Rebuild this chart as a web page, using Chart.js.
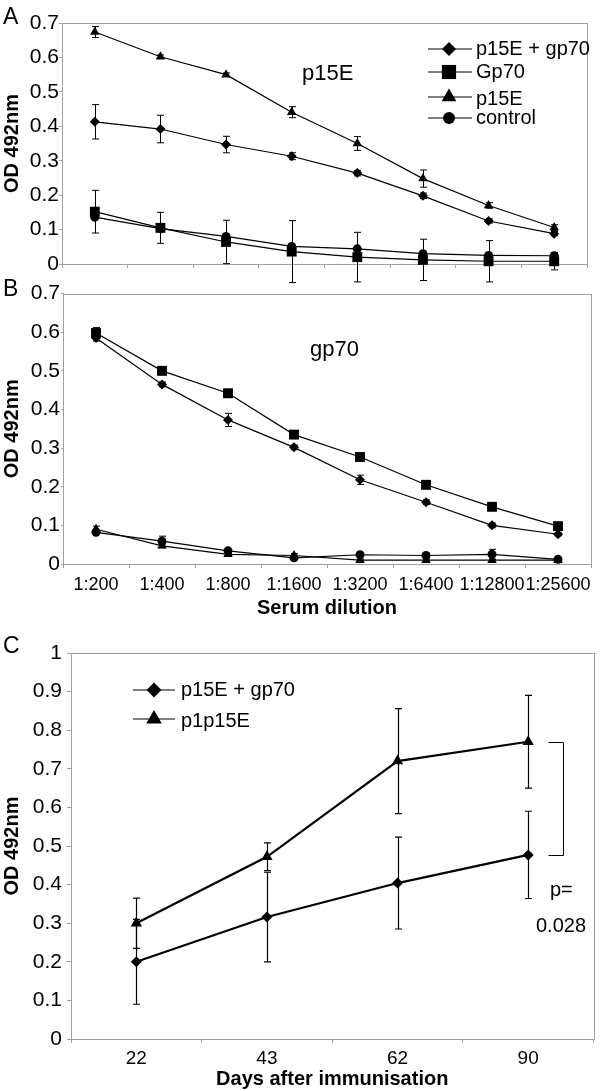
<!DOCTYPE html>
<html>
<head>
<meta charset="utf-8">
<script src="https://cdn.jsdelivr.net/npm/chart.js@4/dist/chart.umd.min.js"></script>
<style>
  html, body { margin: 0; padding: 0; background: #fff; }
  body { width: 600px; height: 1091px; position: relative; overflow: hidden; font-family: 'Liberation Sans', Arial, sans-serif; }
  .panel { position: absolute; left: 0; width: 600px; }
  .letter { position: absolute; left: 3px; font-size: 23px; color: #000; line-height: 1; }
</style>
</head>
<body>
<div class="panel" style="top:0;height:290px;"><canvas id="chartA"></canvas></div>
<div class="panel" style="top:280px;height:340px;"><canvas id="chartB"></canvas></div>
<div class="panel" style="top:620px;height:471px;"><canvas id="chartC"></canvas></div>
<div class="letter" style="top:5px;">A</div>
<div class="letter" style="top:277px;">B</div>
<div class="letter" style="top:634px;">C</div>
<script>
// ---------- Data ----------
const dilutionLabels = ['1:200', '1:400', '1:800', '1:1600', '1:3200', '1:6400', '1:12800', '1:25600'];
const yTicksAB = [0, 0.1, 0.2, 0.3, 0.4, 0.5, 0.6, 0.7];

// Panel A (coated with p15E)
const aP15eGp70    = [0.413, 0.392, 0.347, 0.313, 0.264, 0.198, 0.125, 0.088];
const aP15eGp70Err = [0.050, 0.040, 0.024, 0.010, 0.008, 0.008, 0.006, 0.006];
const aGp70        = [0.152, 0.105, 0.064, 0.036, 0.020, 0.012, 0.008, 0.008];
const aGp70Err     = [0.062, 0.045, 0.063, 0.090, 0.072, 0.060, 0.060, 0.025];
const aP15e        = [0.674, 0.602, 0.550, 0.441, 0.350, 0.248, 0.170, 0.106];
const aP15eErr     = [0.016, 0.005, 0.005, 0.016, 0.020, 0.025, 0.008, 0.008];
const aControl     = [0.136, 0.103, 0.080, 0.051, 0.044, 0.030, 0.025, 0.024];

// Panel B (coated with gp70)
const bP15eGp70    = [0.585, 0.465, 0.373, 0.302, 0.218, 0.160, 0.100, 0.077];
const bP15eGp70Err = [0.008, 0.006, 0.017, 0.006, 0.012, 0.006, 0.006, 0.004];
const bGp70        = [0.598, 0.500, 0.442, 0.335, 0.277, 0.205, 0.148, 0.098];
const bGp70Err     = [0.014, 0.006, 0.010, 0.006, 0.006, 0.010, 0.006, 0.004];
const bP15e        = [0.090, 0.047, 0.025, 0.022, 0.010, 0.010, 0.010, 0.010];
const bP15eErr     = [0.008, 0.005, 0.003, 0.005, 0.003, 0.003, 0.003, 0.003];
const bControl     = [0.082, 0.059, 0.034, 0.016, 0.024, 0.022, 0.025, 0.012];
const bControlErr  = [0.005, 0.013, 0.004, 0.003, 0.004, 0.006, 0.013, 0.003];

// Panel C (time course)
const dayLabels    = ['22', '43', '62', '90'];
const yTicksC      = [0, 0.1, 0.2, 0.3, 0.4, 0.5, 0.6, 0.7, 0.8, 0.9, 1];
const cP15eGp70    = [0.200, 0.316, 0.404, 0.477];
const cP15eGp70Err = [0.110, 0.116, 0.119, 0.113];
const cP1p15e      = [0.300, 0.472, 0.720, 0.770];
const cP1p15eErr   = [0.065, 0.036, 0.136, 0.120];
const pValueText   = ['p=', '0.028'];

// ---------- Helpers ----------
const FONT = "'Liberation Sans', Arial, sans-serif";
const AXIS_GRAY = '#a0a0a0';

function drawMarker(ctx, style, x, y, r) {
  ctx.beginPath();
  if (style === 'rectRot') {
    ctx.moveTo(x - r, y); ctx.lineTo(x, y - r); ctx.lineTo(x + r, y); ctx.lineTo(x, y + r); ctx.closePath();
  } else if (style === 'rect') {
    const s = r * Math.SQRT1_2; ctx.rect(x - s, y - s, 2 * s, 2 * s);
  } else if (style === 'triangle') {
    for (let k = 0; k < 3; k++) {
      const a = k * 2 * Math.PI / 3;
      const px = x + Math.sin(a) * r, py = y - Math.cos(a) * r;
      if (k === 0) ctx.moveTo(px, py); else ctx.lineTo(px, py);
    }
    ctx.closePath();
  } else {
    ctx.arc(x, y, r, 0, Math.PI * 2);
  }
  ctx.fill();
}

const framePlugin = {
  id: 'frame',
  beforeDatasetsDraw(chart) {
    const { ctx, chartArea: a } = chart;
    ctx.save();
    ctx.strokeStyle = AXIS_GRAY; ctx.lineWidth = 1;
    ctx.strokeRect(Math.round(a.left) + 0.5, Math.round(a.top) + 0.5, Math.round(a.right - a.left), Math.round(a.bottom - a.top));
    ctx.restore();
  }
};

const errorBarPlugin = {
  id: 'errorBars',
  beforeDatasetsDraw(chart, args, opts) {
    const { ctx } = chart;
    const xs = chart.scales.x, ys = chart.scales.y;
    ctx.save();
    ctx.strokeStyle = '#000';
    ctx.lineWidth = opts.lineWidth || 1;
    const cap = opts.cap || 3.5;
    chart.data.datasets.forEach(ds => {
      if (!ds.errors) return;
      ds.data.forEach((v, i) => {
        const e = ds.errors[i];
        if (!e) return;
        const x = Math.round(xs.getPixelForValue(i)) + 0.5;
        const yTop = ys.getPixelForValue(v + e);
        const yBot = ys.getPixelForValue(v - e);
        ctx.beginPath();
        ctx.moveTo(x, yTop); ctx.lineTo(x, yBot);
        ctx.moveTo(x - cap, yTop); ctx.lineTo(x + cap, yTop);
        ctx.moveTo(x - cap, yBot); ctx.lineTo(x + cap, yBot);
        ctx.stroke();
      });
    });
    ctx.restore();
  }
};

const customLegendPlugin = {
  id: 'customLegend',
  afterDraw(chart, args, opts) {
    if (!opts || !opts.items) return;
    const { ctx } = chart;
    ctx.save();
    opts.items.forEach((it, i) => {
      const ds = chart.data.datasets[it.dataset];
      const y = opts.ys[i];
      ctx.strokeStyle = '#000';
      ctx.lineWidth = opts.lineWidth || 1;
      ctx.beginPath();
      ctx.moveTo(opts.x0, y); ctx.lineTo(opts.x1, y);
      ctx.stroke();
      ctx.fillStyle = '#000';
      drawMarker(ctx, ds.pointStyle, opts.xm, y, it.r);
      ctx.font = opts.fontSize + 'px ' + FONT;
      ctx.textBaseline = 'middle';
      ctx.textAlign = 'left';
      ctx.fillText(ds.label, opts.xt, y + (it.dy || 0));
    });
    ctx.restore();
  }
};

const notesPlugin = {
  id: 'notes',
  afterDraw(chart, args, opts) {
    if (!opts || !opts.texts) return;
    const { ctx } = chart;
    ctx.save();
    ctx.fillStyle = '#000';
    ctx.textBaseline = 'middle';
    ctx.textAlign = 'left';
    opts.texts.forEach(t => {
      ctx.font = t.size + 'px ' + FONT;
      ctx.fillText(t.text, t.x, t.y);
    });
    if (opts.bracket) {
      const b = opts.bracket;
      const xs = chart.scales.x, ys = chart.scales.y;
      const dsTop = chart.data.datasets[b.top], dsBot = chart.data.datasets[b.bottom];
      const idx = b.index;
      const xc = xs.getPixelForValue(idx);
      const y1 = Math.round(ys.getPixelForValue(dsTop.data[idx])) + 0.5;
      const y2 = Math.round(ys.getPixelForValue(dsBot.data[idx])) + 0.5;
      const xa = Math.round(xc + b.dx0) + 0.5, xb = Math.round(xc + b.dx1) + 0.5;
      ctx.strokeStyle = '#000'; ctx.lineWidth = 1;
      ctx.beginPath();
      ctx.moveTo(xa, y1); ctx.lineTo(xb, y1); ctx.lineTo(xb, y2); ctx.lineTo(xa, y2);
      ctx.stroke();
    }
    ctx.restore();
  }
};

Chart.register(framePlugin, errorBarPlugin, customLegendPlugin, notesPlugin);
Chart.defaults.font.family = FONT;
Chart.defaults.color = '#000';

function series(label, data, errors, style, r, lw) {
  return {
    label, data, errors,
    borderColor: '#000', backgroundColor: '#000',
    borderWidth: lw, pointStyle: style, pointRadius: r, pointHoverRadius: r,
    pointBorderWidth: 0, pointBackgroundColor: '#000', tension: 0, clip: false
  };
}

function xAxis(opts) {
  return {
    type: 'category', offset: true,
    grid: { offset: true, drawOnChartArea: false, drawTicks: true, tickLength: 4, color: AXIS_GRAY },
    border: { color: AXIS_GRAY },
    ticks: { display: opts.showTicks, font: { size: opts.tickSize || 17 }, color: '#000', maxRotation: 0, minRotation: 0, autoSkip: false, padding: opts.tickPad || 3 },
    title: { display: !!opts.title, text: opts.title || '', font: { size: 20, weight: 'bold' }, color: '#000', padding: { top: opts.titleTop || 0, bottom: 0 } },
    afterFit: s => { s.height = opts.height; }
  };
}

function yAxis(opts) {
  return {
    type: 'linear', min: 0, max: opts.max,
    afterBuildTicks: s => { s.ticks = opts.ticks.map(v => ({ value: v })); },
    grid: { drawOnChartArea: false, drawTicks: true, tickLength: opts.tickLength, color: AXIS_GRAY },
    border: { color: AXIS_GRAY },
    ticks: { font: { size: 21 }, color: '#000', padding: opts.pad, callback: v => String(+v.toFixed(1)) },
    title: { display: true, text: 'OD 492nm', font: { size: 20, weight: 'bold' }, color: '#000', padding: 0 },
    afterFit: s => { s.width = opts.width; }
  };
}

const common = {
  responsive: true, maintainAspectRatio: false, animation: false,
  events: [],
  plugins: { legend: { display: false }, tooltip: { enabled: false } }
};

// ---------- Chart A ----------
new Chart(document.getElementById('chartA'), {
  type: 'line',
  data: {
    labels: dilutionLabels,
    datasets: [
      series('p15E + gp70', aP15eGp70, aP15eGp70Err, 'rectRot', 5, 1.2),
      series('Gp70', aGp70, aGp70Err, 'rect', 7, 1.2),
      series('p15E', aP15e, aP15eErr, 'triangle', 5.5, 1.2),
      series('control', aControl, null, 'circle', 4.5, 1.2)
    ]
  },
  options: {
    ...common,
    layout: { padding: { top: 23, right: 13, left: 0, bottom: 0 } },
    scales: {
      x: xAxis({ showTicks: false, height: 26 }),
      y: yAxis({ max: 0.7, ticks: yTicksAB, width: 62, tickLength: 3, pad: 0 })
    },
    plugins: {
      ...common.plugins,
      errorBars: { cap: 3.5, lineWidth: 1 },
      customLegend: {
        x0: 428, x1: 472, xm: 449, xt: 476, fontSize: 20, lineWidth: 1,
        ys: [49, 72, 97, 118],
        items: [ { dataset: 0, r: 7 }, { dataset: 1, r: 10 }, { dataset: 2, r: 8.5, dy: 2 }, { dataset: 3, r: 6 } ]
      },
      notes: { texts: [ { text: 'p15E', x: 302, y: 74, size: 22 } ] }
    }
  }
});

// ---------- Chart B ----------
new Chart(document.getElementById('chartB'), {
  type: 'line',
  data: {
    labels: dilutionLabels,
    datasets: [
      series('p15E + gp70', bP15eGp70, bP15eGp70Err, 'rectRot', 5, 1.2),
      series('Gp70', bGp70, bGp70Err, 'rect', 7, 1.2),
      series('p15E', bP15e, bP15eErr, 'triangle', 5.5, 1.2),
      series('control', bControl, bControlErr, 'circle', 4.5, 1.2)
    ]
  },
  options: {
    ...common,
    layout: { padding: { top: 8, right: 9, left: 0, bottom: 0 } },
    scales: {
      x: xAxis({ showTicks: true, height: 56, tickSize: 18, tickPad: 6, title: 'Serum dilution' }),
      y: yAxis({ max: 0.7, ticks: yTicksAB, width: 63, tickLength: 2, pad: 1 })
    },
    plugins: {
      ...common.plugins,
      errorBars: { cap: 3.5, lineWidth: 1 },
      notes: { texts: [ { text: 'gp70', x: 310, y: 70, size: 22 } ] }
    }
  }
});

// ---------- Chart C ----------
new Chart(document.getElementById('chartC'), {
  type: 'line',
  data: {
    labels: dayLabels,
    datasets: [
      series('p15E + gp70', cP15eGp70, cP15eGp70Err, 'rectRot', 5.5, 2.2),
      series('p1p15E', cP1p15e, cP1p15eErr, 'triangle', 6.5, 2.2)
    ]
  },
  options: {
    ...common,
    layout: { padding: { top: 33, right: 3, left: 0, bottom: 0 } },
    scales: {
      x: xAxis({ showTicks: true, height: 52, tickSize: 19, tickPad: 4, title: 'Days after immunisation' }),
      y: yAxis({ max: 1, ticks: yTicksC, width: 71, tickLength: 4, pad: 5 })
    },
    plugins: {
      ...common.plugins,
      errorBars: { cap: 3.5, lineWidth: 1.2 },
      customLegend: {
        x0: 133, x1: 175, xm: 154, xt: 181, fontSize: 20, lineWidth: 1,
        ys: [70, 99],
        items: [ { dataset: 0, r: 7.5 }, { dataset: 1, r: 9, dy: 2 } ]
      },
      notes: {
        texts: [ { text: pValueText[0], x: 550, y: 270, size: 20 }, { text: pValueText[1], x: 536, y: 306, size: 20 } ],
        bracket: { top: 1, bottom: 0, index: 3, dx0: 20, dx1: 35 }
      }
    }
  }
});
</script>
</body>
</html>
